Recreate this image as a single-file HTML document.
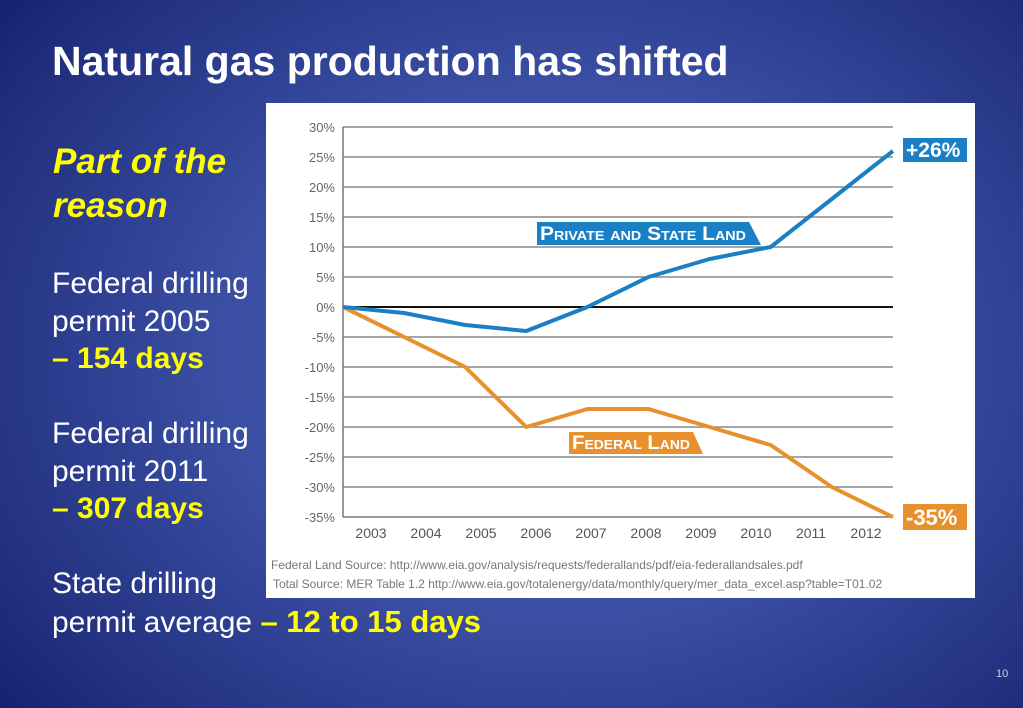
<!DOCTYPE html>
<html><head><meta charset="utf-8"><style>
body{margin:0;width:1023px;height:708px;overflow:hidden;font-family:"Liberation Sans",sans-serif;
background:radial-gradient(ellipse 75% 85% at 55% 50%,#4a61b4 0%,#3a4ea3 45%,#22307f 80%,#101c6a 100%);position:relative}
.t{position:absolute;color:#fff;margin:0}
.y{color:#ffff00;font-weight:bold}
</style></head><body>
<h1 class="t" style="left:52px;top:38px;font-size:41px;font-weight:bold">Natural gas production has shifted</h1>
<div class="t" style="left:53px;top:140px;font-size:35px;line-height:44px;color:#ffff00;font-weight:bold;font-style:italic">Part of the<br>reason</div>
<div class="t" style="left:52px;top:265px;font-size:30px;line-height:37.5px">Federal drilling<br>permit 2005<br><span class="y">– 154 days</span><br><br>Federal drilling<br>permit 2011<br><span class="y">– 307 days</span><br><br>State drilling<br>permit average <span class="y" style="font-size:31px">– 12 to 15 days</span></div>
<div class="t" style="left:996px;top:668px;font-size:11px;color:#ccd">10</div>
<svg style="position:absolute;left:266px;top:103px" width="709" height="495" viewBox="266 103 709 495">
<rect x="266" y="103" width="709" height="495" fill="#fff"/>
<g id="grid"></g><g id="lines"></g><g id="labels"></g>
<text x="271" y="569" font-size="12" fill="#777">Federal Land Source: http://www.eia.gov/analysis/requests/federallands/pdf/eia-federallandsales.pdf</text>
<text x="273" y="588" font-size="12" fill="#777">Total Source: MER Table 1.2  http://www.eia.gov/totalenergy/data/monthly/query/mer_data_excel.asp?table=T01.02</text>
</svg>
<script>
const years=['2003','2004','2005','2006','2007','2008','2009','2010','2011','2012'];
const privateVals=[0,-1,-3,-4,0,5,8,10,18,26];
const federalVals=[0,-5,-10,-20,-17,-17,-20,-23,-30,-35];
const yTicks=[30,25,20,15,10,5,0,-5,-10,-15,-20,-25,-30,-35];
const NS='http://www.w3.org/2000/svg';
const y=v=>307-v*6;
const x=i=>343+i*61.1;
const xl=i=>371+i*55;
function mk(t,a,p){const e=document.createElementNS(NS,t);for(const k in a)e.setAttribute(k,a[k]);p.appendChild(e);return e;}
const g=document.getElementById('grid'),L=document.getElementById('lines'),lb=document.getElementById('labels');
yTicks.forEach(v=>{
 if(v>-35){const l=mk('line',{x1:343,x2:893,y1:y(v),y2:y(v),stroke:v===0?'#111':'#888','stroke-width':v===0?2:1.5},g);
 
 }
 const t=mk('text',{x:335,y:y(v)+5,'text-anchor':'end','font-size':13,fill:'#666'},g);t.textContent=v+'%';
 
 
});
let ax=mk('line',{x1:343,x2:343,y1:y(30),y2:y(-35),stroke:'#777','stroke-width':1.5},g);


let bx=mk('line',{x1:343,x2:893,y1:y(-35),y2:y(-35),stroke:'#777','stroke-width':1.5},g);


years.forEach((yr,i)=>{const t=mk('text',{x:xl(i),y:538,'text-anchor':'middle','font-size':14,fill:'#555'},g);t.textContent=yr;
 
 });
function line(vals,col,name){const p=mk('polyline',{points:vals.map((v,i)=>x(i)+','+y(v)).join(' '),fill:'none',stroke:col,'stroke-width':4,'stroke-linejoin':'round'},L);
 
 }
line(federalVals,'#e8912c','federal-land-line');
line(privateVals,'#1a7fc4','private-state-line');
function tag(xx,yy,w,h,txt,col,name,fs,slant,sc){
 const gg=mk('g',{},lb);
 
 
 mk('polygon',{points:`${xx},${yy} ${xx+w},${yy} ${xx+w+slant},${yy+h} ${xx},${yy+h}`,fill:col},gg);
 const a={x:xx+3,y:yy+h-5,'font-size':fs,'font-weight':'bold',fill:'#fff'};
 if(sc){a['font-variant']='small-caps';a.textLength=w-6;a.lengthAdjust='spacingAndGlyphs';}
 const t=mk('text',a,gg);t.textContent=txt;}
tag(537,222,212,23,'Private and State Land','#1a7fc4','private-state-label',19,12,true);
tag(569,432,124,22,'Federal Land','#e8912c','federal-land-label',19,10,true);
tag(903,138,64,24,'+26%','#1a7fc4','end-label-private',21,0,false);
tag(903,504,64,26,'-35%','#e8912c','end-label-federal',22,0,false);
</script>
</body></html>
